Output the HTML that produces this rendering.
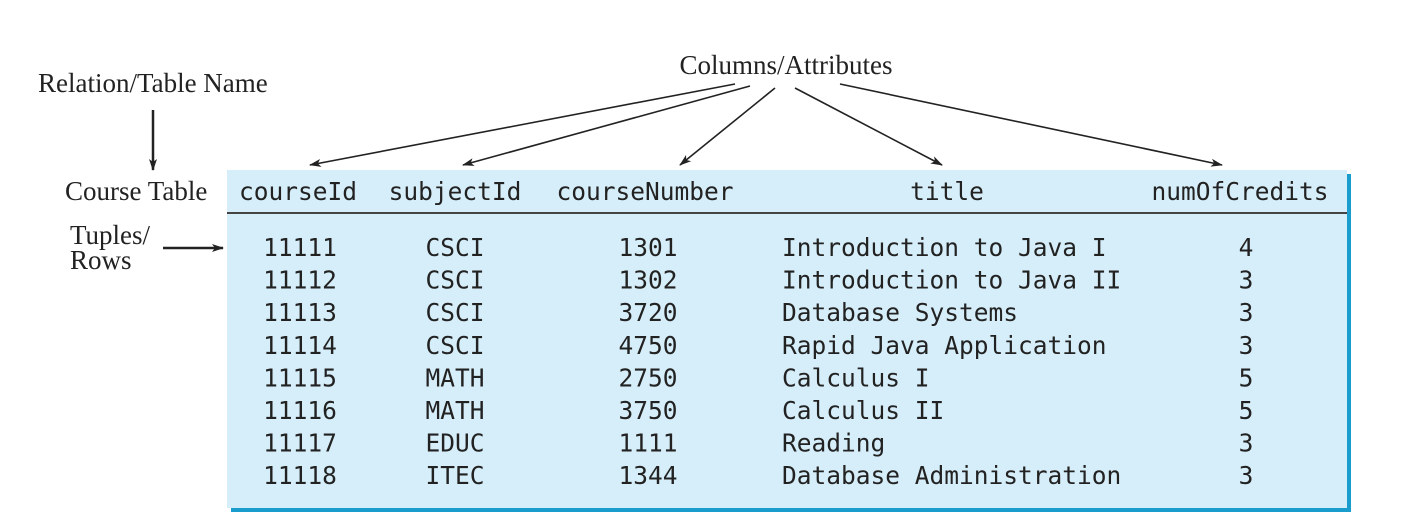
<!DOCTYPE html>
<html><head><meta charset="utf-8"><style>
html,body{margin:0;padding:0;background:#fff;}
svg{display:block}
.serif{font-family:"Liberation Serif",serif;font-size:27px;fill:#222}
.mono{font-family:"DejaVu Sans Mono","Liberation Mono",monospace;font-size:24.5px;fill:#222}
</style></head><body>
<svg width="1402" height="525" viewBox="0 0 1402 525">
<defs>
<marker id="ah" markerWidth="12" markerHeight="8" refX="11" refY="4" orient="auto" markerUnits="userSpaceOnUse">
<path d="M0,0 L12,4 L0,8 L3,4 z" fill="#222"/></marker>
</defs>
<rect x="231" y="174" width="1120" height="338" fill="#1a9ccc"/>
<rect x="227" y="170" width="1120" height="338" fill="#d6eef9"/>
<line x1="227" y1="213" x2="1347" y2="213" stroke="#444" stroke-width="2"/>

<text class="serif" x="786" y="74" text-anchor="middle">Columns/Attributes</text>
<text class="serif" x="38" y="92">Relation/Table Name</text>
<text class="serif" x="65" y="200">Course Table</text>
<text class="serif" x="70" y="244">Tuples/</text>
<text class="serif" x="70" y="269">Rows</text>

<g stroke="#222" stroke-width="1.6" fill="none">
<line x1="735" y1="84" x2="310" y2="165" marker-end="url(#ah)"/>
<line x1="750" y1="86" x2="463" y2="165" marker-end="url(#ah)"/>
<line x1="775" y1="88" x2="680" y2="165" marker-end="url(#ah)"/>
<line x1="795" y1="88" x2="942" y2="165" marker-end="url(#ah)"/>
<line x1="840" y1="84" x2="1222" y2="165" marker-end="url(#ah)"/>
</g>
<line x1="153" y1="110" x2="153" y2="170" stroke="#222" stroke-width="2.5" marker-end="url(#ah)"/>
<line x1="163" y1="248" x2="223" y2="248" stroke="#222" stroke-width="2.5" marker-end="url(#ah)"/>

<g class="mono">
<text x="298" y="200" text-anchor="middle">courseId</text>
<text x="455" y="200" text-anchor="middle">subjectId</text>
<text x="645" y="200" text-anchor="middle">courseNumber</text>
<text x="947" y="200" text-anchor="middle">title</text>
<text x="1240" y="200" text-anchor="middle">numOfCredits</text>
</g>
<g id="rows" class="mono"></g>
</svg>
<script>
const ids=["11111","11112","11113","11114","11115","11116","11117","11118"];
const subjects=["CSCI","CSCI","CSCI","CSCI","MATH","MATH","EDUC","ITEC"];
const numbers=["1301","1302","3720","4750","2750","3750","1111","1344"];
const titles=["Introduction to Java I","Introduction to Java II","Database Systems","Rapid Java Application","Calculus I","Calculus II","Reading","Database Administration"];
const credits=["4","3","3","3","5","5","3","3"];
const g=document.getElementById('rows');
const ns="http://www.w3.org/2000/svg";
function t(x,y,s,anchor,name){
  const e=document.createElementNS(ns,'text');
  e.setAttribute('x',x);e.setAttribute('y',y);
  e.setAttribute('text-anchor',anchor);
  e.textContent=s;
  
  
  g.appendChild(e);
}
for(let i=0;i<ids.length;i++){
  const y=256+i*32.6;
  t(300,y,ids[i],'middle','cell-course-id');
  t(455,y,subjects[i],'middle','cell-subject-id');
  t(648,y,numbers[i],'middle','cell-course-number');
  t(782,y,titles[i],'start','cell-title');
  t(1246,y,credits[i],'middle','cell-credits');
}
</script>
</body></html>
